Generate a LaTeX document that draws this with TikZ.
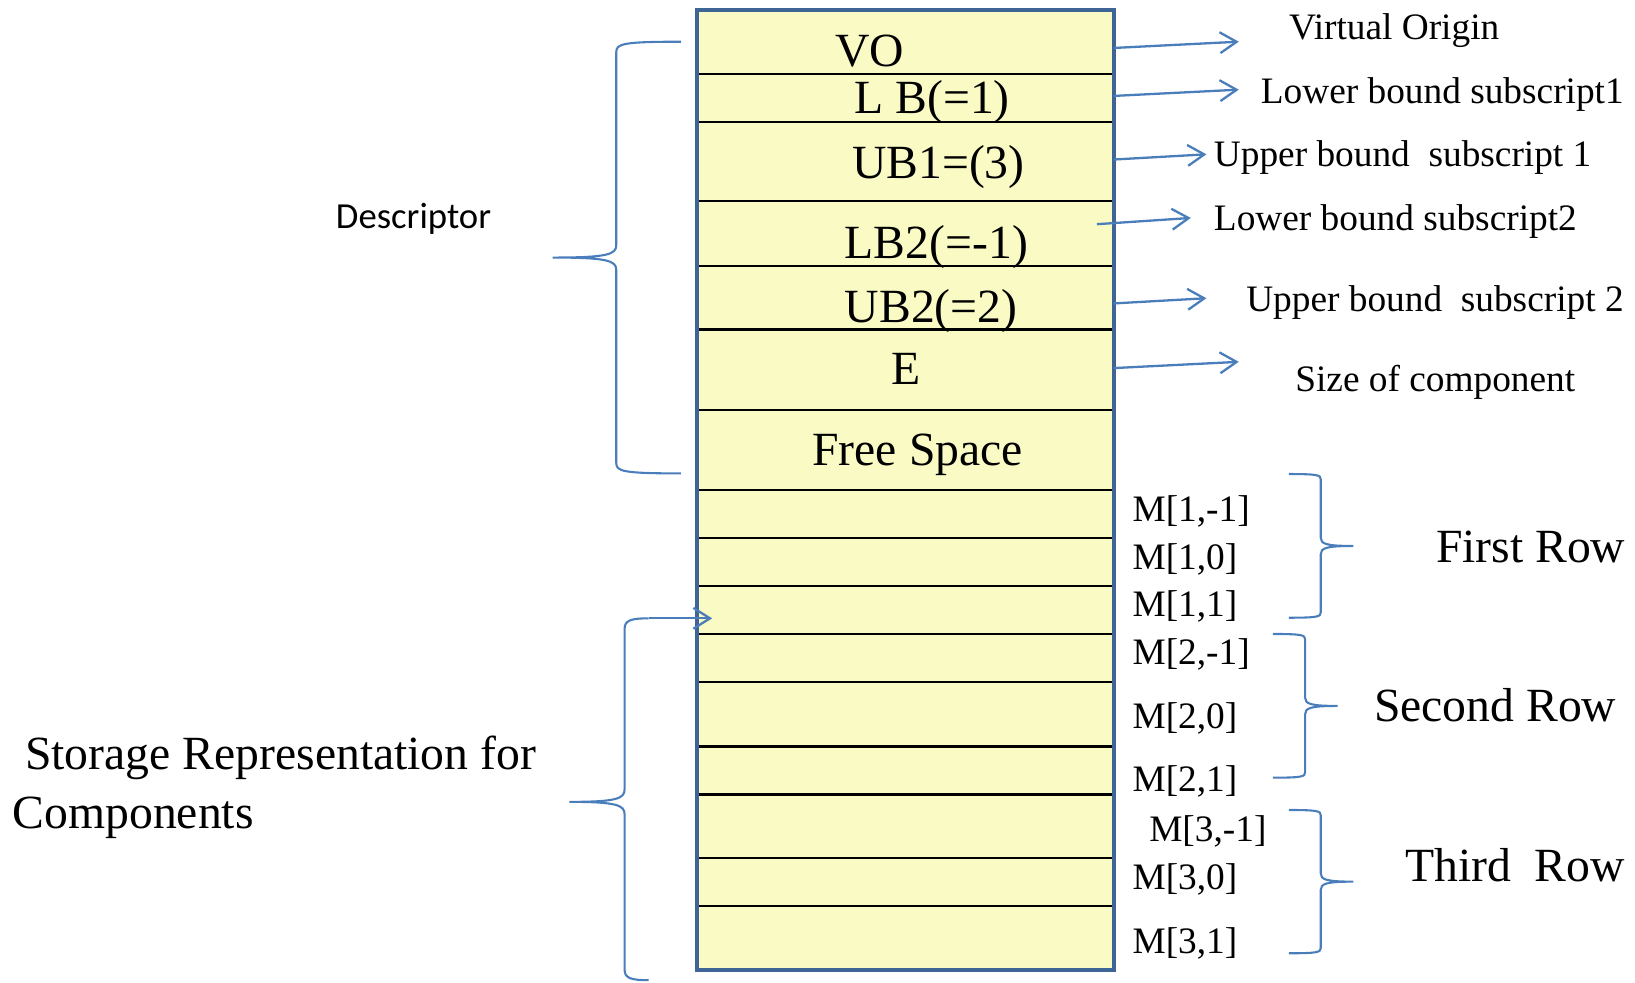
\documentclass[tikz,border=0pt]{standalone}
\usepackage{fontspec}
\setmainfont{Liberation Serif}
\newfontfamily\calib{Carlito}
\usetikzlibrary{arrows.meta}
\definecolor{boxfill}{RGB}{249,250,196}
\definecolor{boxedge}{RGB}{63,100,150}
\definecolor{connblue}{RGB}{74,126,187}
% right-facing brace: xa, xv, xt, ytop, ymid, ybot
\newcommand\myRB[6]{\draw[brc] (#1,#4) .. controls (#2-3,#4) and (#2,#4+1) .. (#2,#4+5) -- (#2,#5-8) .. controls (#2,#5-2) and (#2+5,#5) .. (#3,#5) .. controls (#2+5,#5) and (#2,#5+2) .. (#2,#5+8) -- (#2,#6-5) .. controls (#2,#6-1) and (#2-3,#6) .. (#1,#6);}
% left-facing brace
\newcommand\myLB[6]{\draw[brc] (#1,#4) .. controls (#2+6,#4) and (#2,#4+2) .. (#2,#4+10) -- (#2,#5-12) .. controls (#2,#5-3) and (#2-8,#5) .. (#3,#5) .. controls (#2-8,#5) and (#2,#5+3) .. (#2,#5+12) -- (#2,#6-10) .. controls (#2,#6-2) and (#2+6,#6) .. (#1,#6);}
\begin{document}
\begin{tikzpicture}[x=1pt,y=-1pt,
  brc/.style={draw=connblue, line width=2pt},
  arr/.style={draw=connblue, line width=2.2pt, -{Straight Barb[length=16pt,width=20pt,line width=2.2pt]}},
  rowline/.style={draw=black, line width=2.2pt},
  big/.style={font=\fontsize{45.7}{54}\selectfont, inner sep=0pt},
  lab/.style={font=\fontsize{35.8}{42}\selectfont, inner sep=0pt},
]
\useasboundingbox (0,0) rectangle (1568,942);
% memory box
\node[draw=boxedge, fill=boxfill, line width=3.8pt, minimum width=400pt, minimum height=920pt, inner sep=0pt] (box) at (868,470) {};
\foreach \y in {71,117,193,255,316,393,470,516,562,608,654,716,762,823,869}
  \draw[rowline] (670,\y) -- (1066,\y);
% box texts
\node[big, anchor=base] (vo)  at (834,64)  {VO};
\node[big, anchor=base] (lb1) at (894,109) {L B(=1)};
\node[big, anchor=base] (ub1) at (900,171) {UB1=(3)};
\node[big, anchor=base] (lb2) at (898,248) {LB2(=-1)};
\node[big, anchor=base] (ub2) at (893,309) {UB2(=2)};
\node[big, anchor=base] (ee)  at (869,369) {E};
\node[big, anchor=base] (fs)  at (880,446) {Free Space};
% right labels
\node[lab, anchor=base west] (tvo)  at (1236,38)  {Virtual Origin};
\node[lab, anchor=base west] (tlb1) at (1209,99)  {Lower bound subscript1};
\node[lab, anchor=base west] (tub1) at (1164,160) {Upper bound\ \ subscript 1};
\node[lab, anchor=base west] (tlb2) at (1164,221) {Lower bound subscript2};
\node[lab, anchor=base west] (tub2) at (1195,299) {Upper bound\ \ subscript 2};
\node[lab, anchor=base west] (tsz)  at (1242,375) {Size of component};
% arrow ends
\coordinate (s1) at (1068,46);  \coordinate (e1) at (1188,40);
\coordinate (s2) at (1068,92);  \coordinate (e2) at (1188,86);
\coordinate (s3) at (1068,153); \coordinate (e3) at (1157,148);
\coordinate (s4) at (1052,215); \coordinate (e4) at (1142,209);
\coordinate (s5) at (1068,291); \coordinate (e5) at (1157,286);
\coordinate (s6) at (1068,353); \coordinate (e6) at (1188,347);
\draw[arr] (s1) -- (e1);
\draw[arr] (s2) -- (e2);
\draw[arr] (s3) -- (e3);
\draw[arr] (s4) -- (e4);
\draw[arr] (s5) -- (e5);
\draw[arr] (s6) -- (e6);
% element labels
\node[lab, anchor=base west] (m1a) at (1086,500)   {M[1,-1]};
\node[lab, anchor=base west] (m1b) at (1086,546.6) {M[1,0]};
\node[lab, anchor=base west] (m1c) at (1086,591.4) {M[1,1]};
\node[lab, anchor=base west] (m2a) at (1086,637.7) {M[2,-1]};
\node[lab, anchor=base west] (m2b) at (1086,698.5) {M[2,0]};
\node[lab, anchor=base west] (m2c) at (1086,759.2) {M[2,1]};
\node[lab, anchor=base west] (m3a) at (1102,807.2) {M[3,-1]};
\node[lab, anchor=base west] (m3b) at (1086,853.5) {M[3,0]};
\node[lab, anchor=base west] (m3c) at (1086,914.2) {M[3,1]};
% row braces and labels
\myRB{1236}{1266.6}{1297.8}{454.6}{523.6}{592.4}
\myRB{1220.8}{1251.6}{1282.9}{608}{677}{745.8}
\myRB{1236}{1266.6}{1297.8}{776.8}{845.5}{914.2}
\node[big, anchor=base west] (r1) at (1377,539)    {First Row};
\node[big, anchor=base west] (r2) at (1317.5,692)  {Second Row};
\node[big, anchor=base west] (r3) at (1347.4,845.5) {Third\ \ Row};
% left side
\myLB{653}{591}{530}{40}{247}{454}
\node[font=\calib\fontsize{35.2}{42}\selectfont, anchor=base west, inner sep=0pt] (desc) at (322,219) {Descriptor};
\myLB{622}{599}{546}{593}{769}{940}
\coordinate (sa) at (622,593);
\coordinate (sb) at (683,593);
\draw[arr] (sa) -- (sb);
\node[big, anchor=base west] (st1) at (24,738.4) {Storage Representation for};
\node[big, anchor=base west] (st2) at (12,794.4) {Components};
\end{tikzpicture}
\end{document}
